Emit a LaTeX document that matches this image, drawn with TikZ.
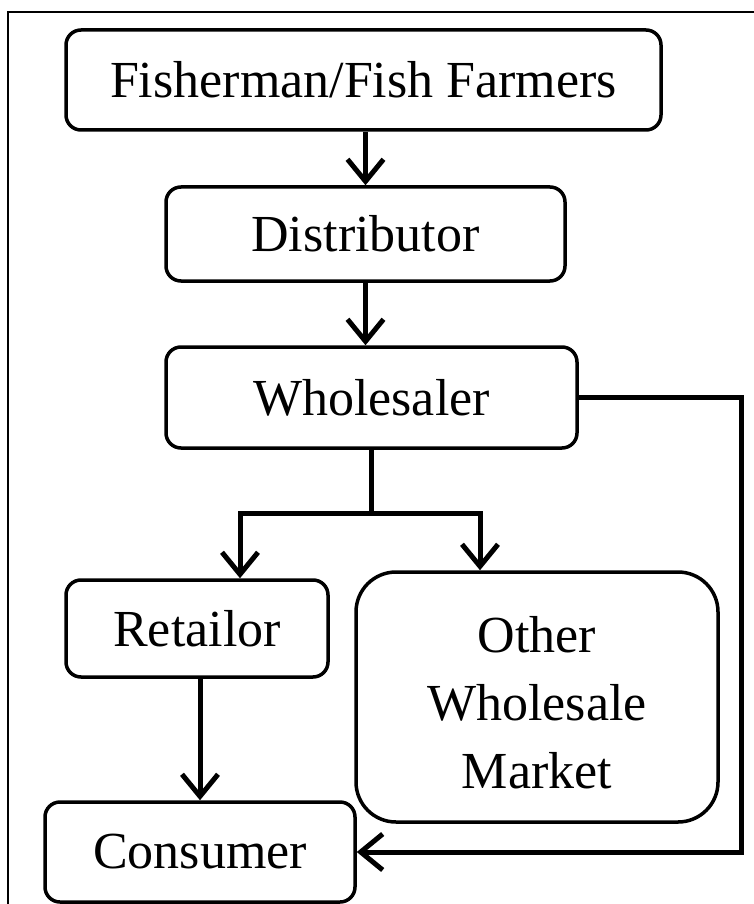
\documentclass[tikz,border=0pt]{standalone}
\usepackage{fontspec}
\setmainfont{Liberation Serif}
\usetikzlibrary{arrows.meta}

\tikzset{
	box/.style={draw,line width=3.5pt,rounded corners=15pt,inner sep=0pt,
		font=\fontsize{52}{68}\selectfont,align=center},
	link/.style={line width=5pt},
	arr/.style={link,-{Straight Barb[length=22pt,width=36pt,line width=5pt]}}
}

\begin{document}
\begin{tikzpicture}[x=1pt,y=-1pt]
\useasboundingbox (0,0) rectangle (754,904);
% frame (cut at right and bottom)
\draw[line width=2pt] (8,904) -- (8,12) -- (754,12);
\node[box,minimum width=595pt,minimum height=100pt] (farm) at (363.5,80) {Fisherman/Fish Farmers};
\node[box,minimum width=399pt,minimum height=94pt] (dist) at (365.5,234) {Distributor};
\node[box,minimum width=411pt,minimum height=101pt] (whole) at (371.5,397.5) {Wholesaler};
\node[box,minimum width=262pt,minimum height=97pt] (ret) at (197,628.5) {Retailor};
\node[box,rounded corners=40pt,minimum width=362pt,minimum height=250pt] (other) at (537,697) {\strut Other\\Wholesale\\Market};
\node[box,minimum width=310pt,minimum height=100pt] (cons) at (200,852) {Consumer};
%\draw[red] (0,0) grid[step=50] (754,904);
\draw[arr] (farm.south -| dist) -- (dist);
\draw[arr] (dist.south) -- (dist.south |- whole.north);
\draw[link] (whole.south) -- ++(0,64) coordinate (split);
\draw[arr] (split) -| ([xshift=43pt]ret.north);
\draw[arr] (split) -| ([xshift=-57pt]other.north);
\draw[arr] (ret.south -| cons) -- (cons);
\draw[arr] (whole.east) -- ++(163,0) |- (cons.east);
\end{tikzpicture}
\end{document}
